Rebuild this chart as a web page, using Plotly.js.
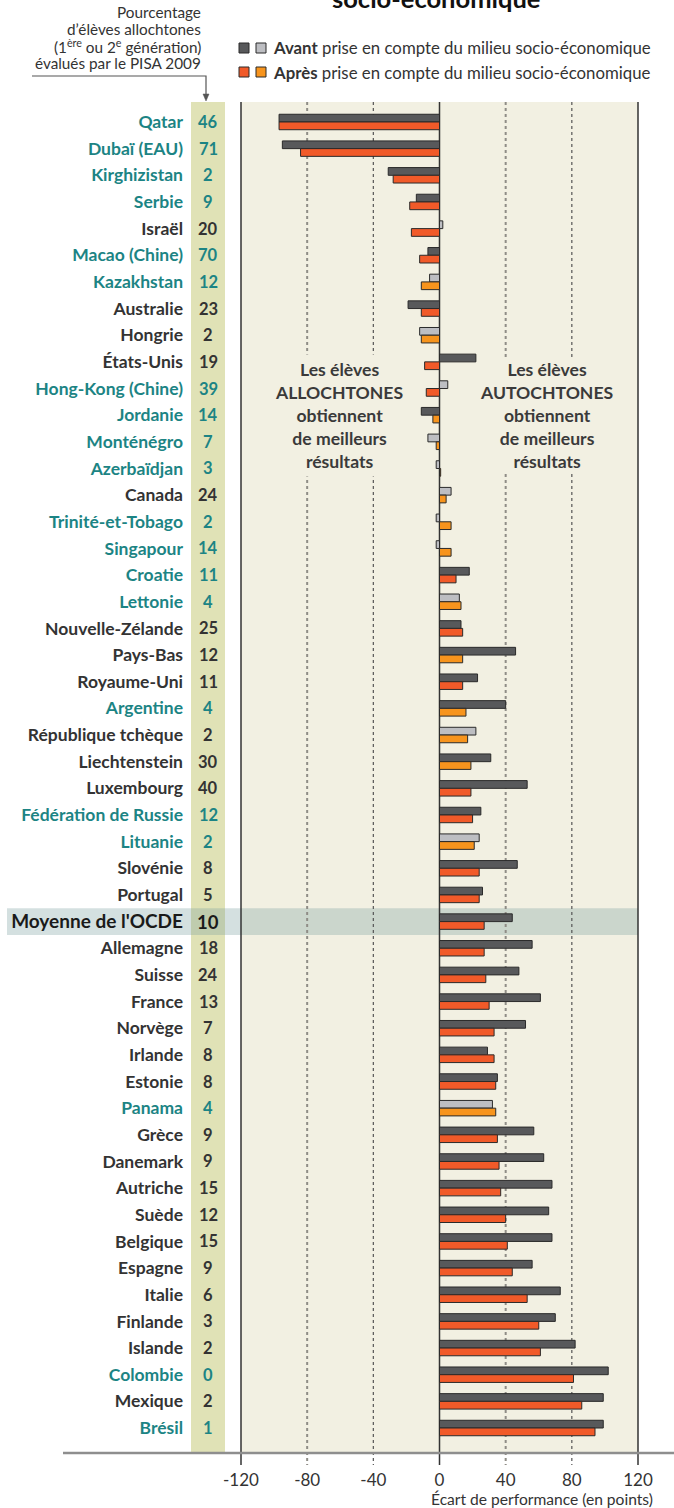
<!DOCTYPE html>
<html><head><meta charset="utf-8">
<script src="https://cdn.plot.ly/plotly-3.0.1.min.js"></script>
<style>html,body{margin:0;padding:0;background:#fff;}</style>
</head><body><div id="chart" style="width:674px;height:1508px;"></div>
<script>
const countries = ["Qatar","Dubaï (EAU)","Kirghizistan","Serbie","Israël","Macao (Chine)","Kazakhstan","Australie","Hongrie","États-Unis","Hong-Kong (Chine)","Jordanie","Monténégro","Azerbaïdjan","Canada","Trinité-et-Tobago","Singapour","Croatie","Lettonie","Nouvelle-Zélande","Pays-Bas","Royaume-Uni","Argentine","République tchèque","Liechtenstein","Luxembourg","Fédération de Russie","Lituanie","Slovénie","Portugal","Moyenne de l'OCDE","Allemagne","Suisse","France","Norvège","Irlande","Estonie","Panama","Grèce","Danemark","Autriche","Suède","Belgique","Espagne","Italie","Finlande","Islande","Colombie","Mexique","Brésil"];
const pctAllochtones = [46,71,2,9,20,70,12,23,2,19,39,14,7,3,24,2,14,11,4,25,12,11,4,2,30,40,12,2,8,5,10,18,24,13,7,8,8,4,9,9,15,12,15,9,6,3,2,0,2,1];
const avant = [-97,-95,-31,-14,2,-7,-6,-19,-12,22,5,-11,-7,-2,7,-2,-2,18,12,13,46,23,40,22,31,53,25,24,47,26,44,56,48,61,52,29,35,32,57,63,68,66,68,56,73,70,82,102,99,99];
const apres = [-97,-84,-28,-18,-17,-12,-11,-11,-11,-9,-8,-4,-2,0.7,4,7,7,10,13,14,14,14,16,17,19,19,20,21,24,24,27,27,28,30,33,33,34,34,35,36,37,40,41,44,53,60,61,81,86,94];
const avantSignificatif = [1,1,1,1,0,1,0,1,0,1,0,1,0,0,0,0,0,1,0,1,1,1,1,0,1,1,1,0,1,1,1,1,1,1,1,1,1,0,1,1,1,1,1,1,1,1,1,1,1,1];
const apresSignificatif = [1,1,1,1,1,1,0,1,0,1,1,0,0,0,0,0,0,1,0,1,0,1,0,0,0,1,1,0,1,1,1,1,1,1,1,1,1,0,1,1,1,1,1,1,1,1,1,1,1,1];
const partenaire = [1,1,1,1,0,1,1,0,0,0,1,1,1,1,0,1,1,1,1,0,0,0,1,0,0,0,1,1,0,0,0,0,0,0,0,0,0,1,0,0,0,0,0,0,0,0,0,1,0,1];
const xTicks = [-120,-80,-40,0,40,80,120];
const headerLines = ['Pourcentage','d’élèves allochtones','(1<sup>ère</sup> ou 2<sup>e</sup> génération)','évalués par le PISA 2009'];
const OCDE = "Moyenne de l'OCDE";

const DARK='#58595b', LIGHT='#bdbec2', RED='#f15a29', ORANGE='#f7941d';
const TEAL='#1c8484', INK='#333333';
const FONT='Lato, "Open Sans", sans-serif';

// pixel helpers for paper positioning of decorations
const L=241, R=638, T=102, B=1452;
const px=(x)=>(x-L)/(R-L);
const py=(y)=>(B-y)/(B-T);

const traceAvant = {
  type:'bar', orientation:'h', y:countries, x:avant, hoverinfo:'skip',
  marker:{color:avantSignificatif.map(s=>s?DARK:LIGHT), line:{color:'#2a2a2a', width:1}}
};
const traceApres = {
  type:'bar', orientation:'h', y:countries, x:apres, hoverinfo:'skip',
  marker:{color:apresSignificatif.map(s=>s?RED:ORANGE), line:{color:'#2a2a2a', width:1}}
};

const ticktext = countries.map((c,i)=>{
  if(c===OCDE) return `<span style="font-size:19px;color:#1a1a1a">${c}</span>`;
  return `<span style="color:${partenaire[i]?TEAL:INK}">${c}</span>`;
});

const shapes = [];
// green percentage column
shapes.push({type:'rect', xref:'paper', yref:'paper', x0:px(191), x1:px(225), y0:0, y1:1, fillcolor:'#e0e2b6', line:{width:0}, layer:'below'});
// OECD highlight band
shapes.push({type:'rect', xref:'paper', yref:'y', x0:px(7), x1:1, y0:countries.indexOf(OCDE)-0.5, y1:countries.indexOf(OCDE)+0.5, fillcolor:'rgba(120,160,160,0.32)', line:{width:0}, layer:'below'});
// gridlines + ticks
xTicks.forEach(v=>{
  const solid = (v===0 || Math.abs(v)===120);
  const heavy = (v===-80 || v===40);
  const s = {type:'line', yref:'paper', y0:1, y1:-13/(B-T), layer:'below',
    line: solid ? {color:'#333', width:1.5} : {color: heavy?'#8f8d86':'#555', width: heavy?2:1.2, dash:'dot'}};
  if(Math.abs(v)===120){ s.xref='paper'; s.x0=s.x1=(v<0?0:1); }
  else { s.xref='x'; s.x0=s.x1=v; }
  shapes.push(s);
});
// x axis line
shapes.push({type:'line', xref:'paper', yref:'paper', x0:px(63), x1:px(674), y0:py(1453), y1:py(1453), line:{color:'#8e8e8e', width:2.5}});
// header connector line + arrow
shapes.push({type:'path', xref:'paper', yref:'paper', path:`M ${px(32)} ${py(76)} L ${px(206)} ${py(76)} L ${px(206)} ${py(95)}`, line:{color:'#555', width:1.2}});
shapes.push({type:'path', xref:'paper', yref:'paper', path:`M ${px(203)} ${py(94)} L ${px(209)} ${py(94)} L ${px(206)} ${py(101)} Z`, fillcolor:'#555', line:{color:'#555', width:0.5}});
// legend squares
[[239,DARK,43],[256,LIGHT,43],[239,RED,67],[256,ORANGE,67]].forEach(([x,c,y])=>{
  shapes.push({type:'rect', xref:'paper', yref:'paper', x0:px(x), x1:px(x+10), y0:py(y), y1:py(y+10), fillcolor:c, line:{color:'#2a2a2a', width:1}});
});

const annotations = [];
countries.forEach((c,i)=>{
  const isO = c===OCDE;
  annotations.push({xref:'paper', yref:'y', x:px(208), y:c, text:String(pctAllochtones[i]), showarrow:false, xanchor:'center',
    font:{family:FONT, size:isO?18.5:16.5, weight:'bold', color:isO?'#1a1a1a':(partenaire[i]?TEAL:INK)}});
});
annotations.push({xref:'paper', yref:'paper', x:px(436), y:py(15), yanchor:'bottom', text:'socio-économique', showarrow:false,
  font:{family:FONT, size:25.5, weight:'bold', color:'#111'}});
[12,29,46,63].forEach((y,i)=>{
  annotations.push({xref:'paper', yref:'paper', x:px(203), y:py(y), xanchor:'right', yanchor:'middle', align:'right', showarrow:false,
    text:headerLines[i], font:{family:FONT, size:15.3, color:'#333'}});
});
annotations.push({xref:'paper', yref:'paper', x:px(271), y:py(48), xanchor:'left', yanchor:'middle', showarrow:false,
  text:'<b>Avant</b> prise en compte du milieu socio-économique', font:{family:FONT, size:16.8, color:'#333'}});
annotations.push({xref:'paper', yref:'paper', x:px(271), y:py(72), xanchor:'left', yanchor:'middle', showarrow:false,
  text:'<b>Après</b> prise en compte du milieu socio-économique', font:{family:FONT, size:16.8, color:'#333'}});
annotations.push({xref:'x', yref:'y', x:-61, y:'Jordanie', showarrow:false, bgcolor:'#f2f0e2', borderpad:4,
  text:'Les élèves<br>ALLOCHTONES<br>obtiennent<br>de meilleurs<br>résultats', font:{family:FONT, size:17.6, weight:'bold', color:'#3a3a3a'}});
annotations.push({xref:'x', yref:'y', x:65, y:'Jordanie', showarrow:false, bgcolor:'#f2f0e2', borderpad:0,
  text:'Les élèves<br>AUTOCHTONES<br>obtiennent<br>de meilleurs<br>résultats', font:{family:FONT, size:17.6, weight:'bold', color:'#3a3a3a'}});
annotations.push({xref:'paper', yref:'paper', x:px(655), y:py(1499), xanchor:'right', yanchor:'middle', showarrow:false,
  text:'Écart de performance (en points)', font:{family:FONT, size:15.6, color:'#333'}});

const layout = {
  width:674, height:1508,
  margin:{l:L, r:674-R, t:T, b:1508-B, pad:0},
  paper_bgcolor:'#ffffff', plot_bgcolor:'#f2f0e2',
  font:{family:FONT, color:INK},
  showlegend:false, barmode:'group', bargap:0.42, bargroupgap:0,
  xaxis:{range:[-120,120], tickvals:xTicks, ticktext:xTicks.map(v=>String(v)), ticks:'outside', ticklen:13, tickcolor:'rgba(0,0,0,0)',
    showgrid:false, zeroline:false, showline:false, tickfont:{family:FONT, size:17, color:'#333'}, fixedrange:true},
  yaxis:{type:'category', categoryorder:'array', categoryarray:countries, range:[49.9,-0.75], tickvals:countries, ticktext:ticktext,
    ticks:'', ticklabelstandoff:57, showgrid:false, zeroline:false, showline:false, fixedrange:true,
    tickfont:{family:FONT, size:17.5, weight:'bold', color:INK}},
  shapes:shapes, annotations:annotations
};
Plotly.newPlot('chart', [traceAvant, traceApres], layout, {staticPlot:true, displayModeBar:false});
</script></body></html>
